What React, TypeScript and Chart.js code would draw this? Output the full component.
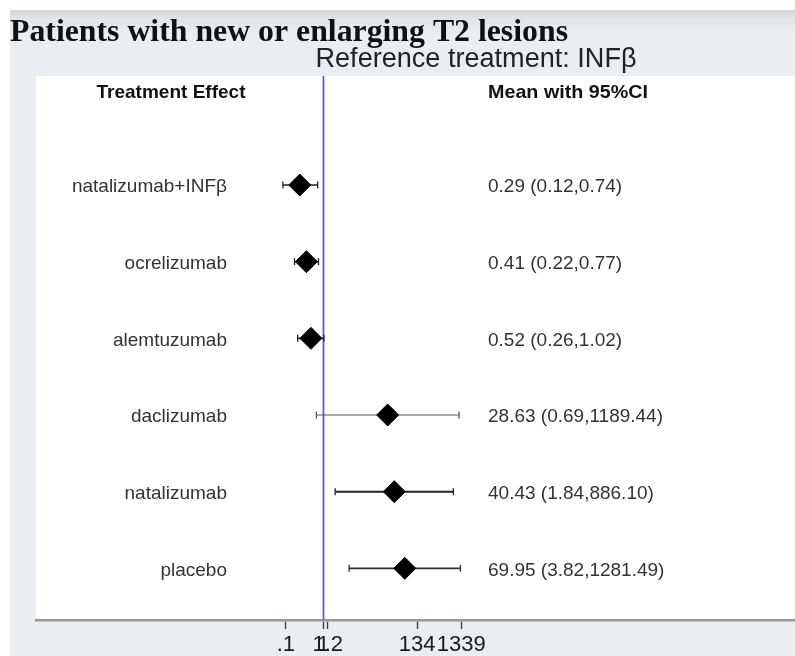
import React, { useEffect, useRef } from "react";
import { Chart, registerables } from "chart.js";

Chart.register(...registerables);

// ---- data ----
const treatments = [
  "natalizumab+INFβ",
  "ocrelizumab",
  "alemtuzumab",
  "daclizumab",
  "natalizumab",
  "placebo",
];
const means = [0.29, 0.41, 0.52, 28.63, 40.43, 69.95];
const lower = [0.12, 0.22, 0.26, 0.69, 1.84, 3.82];
const upper = [0.74, 0.77, 1.02, 1189.44, 886.1, 1281.49];
const tickValues = [0.14, 1, 1.25, 134, 1339];
const tickLabels = [".1", "1", "1.2", "134", "1339"];
const referenceValue = 1;

const titleText = "Patients with new or enlarging T2 lesions";
const subtitleText = "Reference treatment: INFβ";
const leftHeader = "Treatment Effect";
const rightHeader = "Mean with 95%CI";

// ---- layout config ----
const W = 795;
const H = 656;
const X_MIN = 3e-7;
const X_MAX = 5e10;
const Y_MIN = -1.422;
const Y_MAX = 5.674;

const ciWidths = [1.6, 1.6, 1.6, 1.1, 2, 1.6];
const ciColors = ["#222", "#222", "#222", "#555", "#222", "#333"];

export default function App() {
  const ref = useRef<HTMLCanvasElement>(null);

  useEffect(() => {
    const canvas = ref.current;
    if (!canvas) return;

    const fmt = (v: number) => v.toFixed(2);

    const ciDatasets = treatments.map((_, i) => ({
      type: "line" as const,
      data: [
        { x: lower[i], y: i },
        { x: upper[i], y: i },
      ],
      borderColor: ciColors[i],
      borderWidth: ciWidths[i],
      pointStyle: "line" as const,
      rotation: 90,
      pointRadius: 3.5,
      pointBorderWidth: 1.3,
      pointBorderColor: ciColors[i],
      fill: false,
      order: 2,
    }));

    const fitText = (
      ctx: CanvasRenderingContext2D,
      text: string,
      x: number,
      y: number,
      width: number,
      align: "left" | "center"
    ) => {
      const w = ctx.measureText(text).width;
      const s = width / w;
      ctx.save();
      ctx.textAlign = "left";
      const x0 = align === "center" ? x - width / 2 : x;
      ctx.translate(x0, y);
      ctx.scale(s, 1);
      ctx.fillText(text, 0, 0);
      ctx.restore();
    };

    const bgPlugin = {
      id: "bgPlugin",
      beforeDraw(chart: any) {
        const { ctx, chartArea: ca } = chart;
        ctx.save();
        ctx.fillStyle = "#ffffff";
        ctx.fillRect(0, 0, W, H);
        ctx.fillStyle = "#e8eef2";
        ctx.fillRect(10, 10, W - 10, H - 10);
        const g = ctx.createLinearGradient(0, 10, 0, 34);
        g.addColorStop(0, "#d4d6d8");
        g.addColorStop(0.35, "#e0e4e7");
        g.addColorStop(1, "#e8eef2");
        ctx.fillStyle = g;
        ctx.fillRect(10, 10, W - 10, 24);
        ctx.fillStyle = "#ffffff";
        ctx.fillRect(ca.left, ca.top, ca.right - ca.left, ca.bottom - ca.top);
        ctx.restore();
      },
      afterDraw(chart: any) {
        const { ctx, chartArea: ca } = chart;
        const ys = chart.scales.y;
        ctx.save();

        // title
        ctx.fillStyle = "#111";
        ctx.textBaseline = "alphabetic";
        ctx.font = 'bold 31px "Liberation Serif"';
        fitText(ctx, titleText, 10, 41, 558, "left");

        // subtitle
        ctx.fillStyle = "#222";
        ctx.font = '27px "Liberation Sans"';
        fitText(ctx, subtitleText, 476, 67, 321, "center");

        // headers
        ctx.fillStyle = "#111";
        ctx.font = 'bold 19px "Liberation Sans"';
        ctx.textBaseline = "middle";
        fitText(ctx, leftHeader, 171, ca.top + 17, 149, "center");
        fitText(ctx, rightHeader, 488, ca.top + 17, 160, "left");

        // row labels and values
        ctx.font = '19px "Liberation Sans"';
        ctx.fillStyle = "#333";
        treatments.forEach((t, i) => {
          const y = ys.getPixelForValue(i) + 2;
          ctx.textAlign = "right";
          ctx.fillText(t, 227, y);
          ctx.textAlign = "left";
          ctx.fillText(
            `${fmt(means[i])} (${fmt(lower[i])},${fmt(upper[i])})`,
            488,
            y
          );
        });

        ctx.restore();
      },
    };

    const chart = new Chart(canvas, {
      type: "scatter",
      data: {
        datasets: [
          {
            type: "line" as const,
            data: [
              { x: referenceValue, y: Y_MIN },
              { x: referenceValue, y: Y_MAX },
            ],
            borderColor: "#5c5cd8",
            borderWidth: 1.8,
            pointRadius: 0,
            fill: false,
            order: 3,
          },
          ...ciDatasets,
          {
            type: "scatter" as const,
            data: means.map((m, i) => ({ x: m, y: i })),
            pointStyle: "rectRot",
            pointRadius: 11,
            backgroundColor: "#000",
            borderColor: "#000",
            borderWidth: 1,
            order: 1,
          },
        ] as any,
      },
      options: {
        responsive: false,
        animation: false,
        devicePixelRatio: 1,
        layout: {
          autoPadding: false,
          padding: { left: 36, top: 76, right: 0, bottom: 0 },
        },
        plugins: {
          legend: { display: false },
          tooltip: { enabled: false },
          title: { display: false },
        },
        scales: {
          x: {
            type: "logarithmic",
            min: X_MIN,
            max: X_MAX,
            bounds: "data",
            afterBuildTicks: (scale: any) => {
              scale.ticks = tickValues.map((v) => ({ value: v }));
            },
            afterFit: (scale: any) => {
              scale.height = 36;
            },
            ticks: {
              display: true,
              autoSkip: false,
              maxRotation: 0,
              minRotation: 0,
              padding: 3,
              color: "#1a1a1a",
              font: { family: "Liberation Sans", size: 22 },
              callback: (_v: any, i: number) => tickLabels[i],
            },
            grid: {
              display: true,
              drawOnChartArea: false,
              drawTicks: true,
              tickLength: 9,
              tickColor: "#444",
              tickWidth: 1.4,
            },
            border: { display: true, color: "#9a9a9a", width: 2.5 },
          },
          y: {
            type: "linear",
            reverse: true,
            min: Y_MIN,
            max: Y_MAX,
            display: false,
          },
        },
      } as any,
      plugins: [bgPlugin],
    });

    return () => chart.destroy();
  }, []);

  return (
    <div
      style={{
        position: "fixed",
        left: 0,
        top: 0,
        width: W,
        height: H,
        overflow: "hidden",
      }}
    >
      <canvas
        ref={ref}
        width={W}
        height={H}
        style={{ display: "block", width: W, height: H }}
      />
    </div>
  );
}
